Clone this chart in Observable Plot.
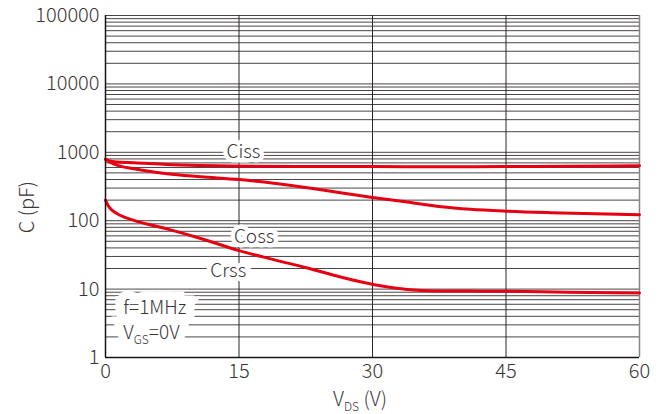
<!DOCTYPE html>
<html><head><meta charset="utf-8">
<script src="https://cdn.jsdelivr.net/npm/d3@7"></script>
<script src="https://cdn.jsdelivr.net/npm/@observablehq/plot@0.6"></script>
<style>
body{margin:0;background:#fff}
#chart svg{font-family:"Noto Sans CJK JP","Noto Sans",sans-serif;font-weight:300;overflow:visible}
#chart svg text{font-weight:300}
</style>
</head><body><div id="chart"></div>
<script>
// ---- data ----
const cissV = [0, 0.5, 1.3, 3.2, 6.9, 10.7, 16.3, 22, 30, 38, 45, 52, 60];
const cissC = [790, 745, 720, 703, 663, 642, 627, 621, 618, 616, 618, 625, 638];

const cossV = [0, 0.5, 1.3, 3.2, 6.9, 10.7, 15, 18.9, 22.7, 26.4, 30.2, 33.9, 37.7, 41, 45, 50, 55, 60];
const cossC = [790, 720, 650, 574, 486, 440, 400, 354, 303, 256, 217, 187, 160, 147, 138, 131, 126, 122];

const crssV = [0, 0.3, 0.8, 1.7, 3.2, 6.9, 10.7, 15, 18.9, 22.7, 26.4, 30.2, 33.9, 37, 45, 52, 60];
const crssC = [200, 165, 140, 119, 101, 76, 55, 36.5, 27, 20.3, 15, 11.6, 9.9, 9.4, 9.3, 9.0, 8.8];

const xTicks = [0, 15, 30, 45, 60];
const yTicks = [1, 10, 100, 1000, 10000, 100000];
const yTickLabels = ["1", "10", "100", "1000", "10000", "100000"];

const seriesNames = ["Ciss", "Coss", "Crss"];
const labelV = [15.5, 16.7, 13.8];
const labelC = [1000, 57, 18.2];

const noteLines = ["f=1MHz", "VGS=0V"];
const noteV = [2.0, 2.0];
const noteC = [5.3, 2.26];

// ---- build tables ----
const rows = [];
cissV.forEach((v, i) => rows.push({s: "Ciss", v, c: cissC[i]}));
cossV.forEach((v, i) => rows.push({s: "Coss", v, c: cossC[i]}));
crssV.forEach((v, i) => rows.push({s: "Crss", v, c: crssC[i]}));

const gridY = [];
for (let d = 1; d < 100000; d *= 10) for (let k = 1; k <= 9; k++) gridY.push(k * d);
gridY.push(100000);

const labels = seriesNames.map((s, i) => ({s, v: labelV[i], c: labelC[i]}));
const notes = noteLines.map((t, i) => ({t, v: noteV[i], c: noteC[i]}));

const textColor = "#3b3636";
const red = "#e60012";

const plot = Plot.plot({
  width: 667,
  height: 414,
  marginLeft: 105,
  marginRight: 28,
  marginTop: 15,
  marginBottom: 57,
  style: {fontSize: "20px", color: textColor, background: "#fff"},
  x: {domain: [0, 60]},
  y: {type: "log", domain: [1, 100000]},
  marks: [
    Plot.ruleY(gridY, {stroke: "#2a2424", strokeWidth: 1, strokeOpacity: 0.85}),
    Plot.ruleX([15, 30, 45], {stroke: "#2a2424", strokeWidth: 1}),
    Plot.ruleX([60], {stroke: "#8a8585", strokeWidth: 1.5}),
    // white backgrounds behind the labels
    Plot.text(labels, {x: "v", y: "c", text: "s", fill: "white", stroke: "white", strokeWidth: 9, strokeLinejoin: "miter", fontSize: 19}),
    Plot.text(notes, {x: "v", y: "c", text: "t", textAnchor: "start", fill: "white", stroke: "white", strokeWidth: 17, strokeLinejoin: "miter", fontSize: 19}),
    Plot.text(labels, {x: "v", y: "c", text: "s", fill: textColor, fontSize: 19}),
    Plot.text(notes, {x: "v", y: "c", text: "t", textAnchor: "start", fill: textColor, fontSize: 19}),
    Plot.line(rows, {x: "v", y: "c", z: "s", stroke: red, strokeWidth: 3, curve: "monotone-x"}),
    Plot.ruleY([1], {stroke: "#1a1414", strokeWidth: 1.5}),
    Plot.ruleX([0], {stroke: "#1a1414", strokeWidth: 1.5}),
    Plot.axisX(xTicks, {tickSize: 0, tickPadding: 6, label: null, fontSize: 20}),
    Plot.axisY(yTicks, {tickSize: 0, tickPadding: 6, label: null, tickFormat: (d) => yTickLabels[yTicks.indexOf(d)], fontSize: 20})
  ]
});

document.getElementById("chart").appendChild(plot);

// subscript for V_GS in the note text
const svg = d3.select(plot);
svg.selectAll("text").each(function() {
  const tspans = d3.select(this).selectAll("tspan");
  const nodes = tspans.empty() ? [this] : tspans.nodes();
  nodes.forEach(n => {
    if (n.textContent === "VGS=0V") {
      const s = d3.select(n);
      s.text(null);
      s.append("tspan").text("V");
      s.append("tspan").attr("font-size", "12px").attr("dy", "5").text("GS");
      s.append("tspan").attr("dy", "-5").text("=0V");
    }
  });
});

// axis titles
const xs = plot.scale("x"), ys = plot.scale("y");
const xMid = (xs.range[0] + xs.range[1]) / 2;
const xt = svg.append("text")
  .attr("x", xMid - 12).attr("y", 406)
  .attr("text-anchor", "middle").attr("fill", textColor).attr("font-size", "20px");
xt.append("tspan").text("V");
xt.append("tspan").attr("font-size", "12px").attr("dy", "5").text("DS");
xt.append("tspan").attr("dy", "-5").text(" (V)");

svg.append("text")
  .attr("transform", `translate(34,${(ys.range[0] + ys.range[1]) / 2 + 21}) rotate(-90)`)
  .attr("text-anchor", "middle").attr("fill", textColor).attr("font-size", "20px")
  .text("C (pF)");
</script>
</body></html>
